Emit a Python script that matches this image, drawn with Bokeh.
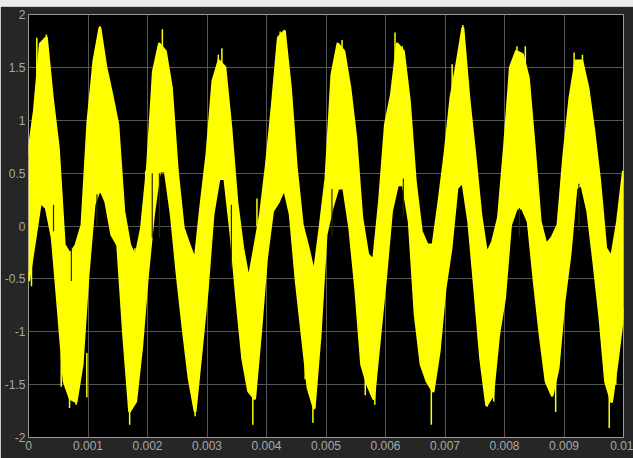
from bokeh.plotting import figure
from bokeh.models import FixedTicker, Div, ColumnDataSource
from bokeh.layouts import column
from bokeh.embed import file_html
from bokeh.resources import INLINE

# Scope trace: sampled every 0.1 ms, upper and lower extent of the noisy signal
t_ms = [i * 0.1 for i in range(101)]
upper = [
    0.68, 1.09, 1.72, 1.78, 1.21, 0.74, -0.18, -0.27, -0.18, 0.01,
    0.99, 1.56, 1.87, 1.50, 1.24, 0.96, 0.14, -0.18, -0.30, -0.02,
    0.55, 1.46, 1.72, 1.65, 1.31, 0.52, -0.02, -0.18, -0.33, 0.20,
    0.68, 1.37, 1.56, 1.50, 0.93, 0.23, -0.21, -0.52, -0.21, 0.11,
    0.58, 1.15, 1.78, 1.84, 1.31, 0.55, 0.01, -0.21, -0.46, -0.02,
    0.45, 1.43, 1.72, 1.65, 1.31, 0.83, 0.08, -0.27, -0.33, 0.23,
    0.96, 1.24, 1.72, 1.65, 1.18, 0.42, -0.05, -0.18, -0.18, 0.23,
    0.68, 1.21, 1.53, 1.87, 1.21, 0.68, 0.11, -0.27, -0.15, 0.08,
    0.74, 1.50, 1.65, 1.62, 1.40, 0.74, 0.04, -0.18, -0.11, 0.01,
    0.68, 1.21, 1.56, 1.56, 1.31, 0.90, 0.42, -0.21, -0.30, 0.04,
    0.52,
]
lower = [
    -0.52, -0.15, 0.23, 0.17, -0.11, -0.78, -1.47, -1.63, -1.66, -1.31,
    -0.46, 0.20, 0.36, 0.23, -0.08, -0.18, -1.03, -1.75, -1.66, -1.15,
    -0.46, 0.11, 0.52, 0.52, 0.11, -0.46, -0.97, -1.44, -1.75, -1.19,
    -0.62, 0.11, 0.45, 0.45, -0.05, -0.68, -1.25, -1.56, -1.63, -1.00,
    -0.30, 0.14, 0.23, 0.36, 0.11, -0.52, -1.03, -1.53, -1.72, -1.03,
    -0.08, 0.17, 0.36, 0.36, -0.02, -0.59, -1.31, -1.50, -1.63, -1.06,
    -0.49, 0.14, 0.39, 0.39, 0.04, -0.84, -1.31, -1.47, -1.56, -1.19,
    -0.59, -0.21, 0.36, 0.42, 0.04, -0.59, -1.25, -1.69, -1.60, -1.03,
    -0.68, 0.01, 0.17, 0.17, 0.04, -0.52, -1.03, -1.47, -1.60, -1.34,
    -0.71, -0.27, 0.36, 0.39, 0.14, -0.33, -0.84, -1.47, -1.66, -1.25,
    -0.78,
]

# Single spikes that stick out of the band: time (ms), base, tip
spike_ms = [0.05, 0.14, 0.30, 1.20, 0.80, 2.25, 1.70, 3.25, 3.77, 4.23,
            5.27, 4.78, 6.16, 6.77, 7.30, 7.71, 9.76, 8.86, 0.98, 4.65,
            0.44, 0.55, 0.69, 1.28, 1.42, 1.51, 1.79, 1.97, 2.15, 2.32,
            2.40, 2.80, 2.94, 3.19, 3.84, 4.16, 4.34, 5.21, 5.66, 5.74,
            5.82, 6.28, 7.12, 8.21, 8.35, 7.82, 9.17, 9.31, 9.87]
spike_base = [-0.30, 1.30, 1.40, 1.40, -1.40, 1.40, -1.50, 1.30, -1.40, 1.40,
              1.40, -1.40, 1.40, -1.40, 1.40, -1.40, -1.40, -1.40, -1.20, -1.20,
              0.60, -1.20, -1.40, 1.20, 0.80, 0.60, -0.50, 0.20, 1.20, 1.20,
              1.00, -1.50, 0.00, 1.20, 0.00, 1.20, 1.20, 1.40, -1.30, -0.60,
              -1.40, 1.40, 1.20, 1.40, 1.40, -1.40, 1.30, 1.30, -1.20]
spike_tip = [-0.57, 1.78, 1.81, 1.89, -1.69, 1.86, -1.88, 1.68, -1.88, 1.84,
             1.76, -1.86, 1.83, -1.88, 1.90, -1.71, -1.91, -1.76, -1.62, -1.45,
             0.96, -1.52, -1.72, 1.53, 1.09, 0.93, -0.21, 0.52, 1.59, 1.59,
             1.31, -1.80, 0.28, 1.62, 0.26, 1.56, 1.59, 1.72, -1.60, -0.33,
             -1.69, 1.70, 1.53, 1.70, 1.70, -1.66, 1.64, 1.62, -1.50]

# Dark slits cutting into the band below the peaks and above the troughs
slit_ms = [0.72, 2.08, 2.20, 3.41, 0.42, 1.15, 5.10, 6.30, 8.25, 9.25]
slit_from = [-0.20, 0.50, 0.50, 0.20, 0.20, 0.30, 0.35, 0.45, 0.17, 0.40]
slit_to = [-0.52, -0.11, -0.11, -0.40, -0.05, 0.00, -0.10, 0.10, -0.10, -0.05]

x_ticks = [i * 0.001 for i in range(11)]
x_tick_labels = ["0", "0.001", "0.002", "0.003", "0.004", "0.005",
                 "0.006", "0.007", "0.008", "0.009", "0.01"]
y_ticks = [-2, -1.5, -1, -0.5, 0, 0.5, 1, 1.5, 2]
y_tick_labels = ["-2", "-1.5", "-1", "-0.5", "0", "0.5", "1", "1.5", "2"]

t = [v / 1000 for v in t_ms]
band = ColumnDataSource(dict(t=t, upper=upper, lower=lower))
spikes = ColumnDataSource(dict(t=[v / 1000 for v in spike_ms],
                               base=spike_base, tip=spike_tip))
slits = ColumnDataSource(dict(t=[v / 1000 for v in slit_ms],
                              y0=slit_from, y1=slit_to))

p = figure(width=633, height=452, x_range=(0, 0.01), y_range=(-2, 2),
           output_backend="svg", toolbar_location=None,
           min_border_left=28, min_border_right=10,
           min_border_top=8, min_border_bottom=21)

p.background_fill_color = "#000000"
p.border_fill_color = "#262626"
p.outline_line_color = "#9a9a9a"
p.outline_line_width = 1

yellow = "#ffff00"
p.varea(x="t", y1="lower", y2="upper", source=band, fill_color=yellow)
# stroke the band edges so the trace keeps its drawn thickness
p.line(x="t", y="upper", source=band, line_color=yellow, line_width=3,
       line_join="round")
p.line(x="t", y="lower", source=band, line_color=yellow, line_width=3,
       line_join="round")
p.segment(x0="t", y0="base", x1="t", y1="tip", source=spikes,
          line_color=yellow, line_width=1.5)
p.segment(x0="t", y0="y0", x1="t", y1="y1", source=slits,
          line_color="#2a2a00", line_width=1.2)

p.xaxis.ticker = FixedTicker(ticks=x_ticks)
p.yaxis.ticker = FixedTicker(ticks=y_ticks)
p.xaxis.major_label_overrides = dict(zip(x_ticks, x_tick_labels))
p.yaxis.major_label_overrides = dict(zip(y_ticks, y_tick_labels))

for ax in (p.xaxis[0], p.yaxis[0]):
    ax.axis_line_color = None
    ax.major_tick_line_color = None
    ax.minor_tick_line_color = None
    ax.major_tick_out = 0
    ax.major_tick_in = 0
    ax.major_label_standoff = 3
    ax.major_label_text_color = "#a8a8a8"
    ax.major_label_text_font = "Liberation Sans"
    ax.major_label_text_font_size = "12px"

p.xgrid.grid_line_color = "#555555"
p.ygrid.grid_line_color = "#555555"
p.xgrid.ticker = FixedTicker(ticks=x_ticks)
p.ygrid.ticker = FixedTicker(ticks=y_ticks)

top_strip = Div(text="", width=633, height=6,
                styles={"background-color": "#ececec", "margin": "0"})

layout = column(top_strip, p, spacing=0)

open("out.html", "w").write(file_html(layout, INLINE))
